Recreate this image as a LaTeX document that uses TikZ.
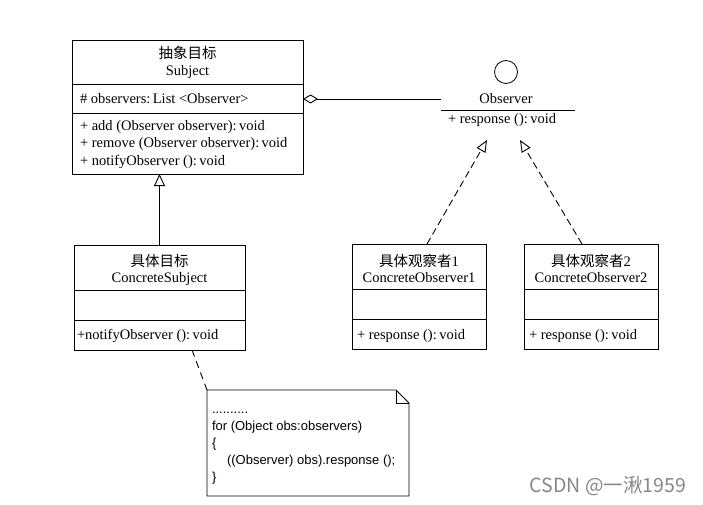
\documentclass[tikz,border=0pt]{standalone}
\usepackage{fontspec}
\setmainfont{Liberation Serif}
\newfontfamily\cjk{Noto Sans CJK SC}
\newfontfamily\notefont{Liberation Sans}
\usetikzlibrary{arrows.meta,calc}
\definecolor{wmgray}{RGB}{135,135,135}
\begin{document}
\begin{tikzpicture}[x=1pt,y=-1pt,
  every node/.style={inner sep=0pt, outer sep=0pt},
  umlbox/.style={draw, line width=0.9pt, anchor=north west},
  sepline/.style={line width=0.9pt},
  txt/.style={font=\fontsize{14.5pt}{17pt}\selectfont},
  notetxt/.style={font=\notefont\fontsize{13pt}{17pt}\selectfont, anchor=base west},
  realize/.style={line width=0.9pt, dash pattern=on 7pt off 4pt, -{Triangle[open,length=12pt,width=10pt]}},
  notelink/.style={line width=0.9pt, dash pattern=on 7pt off 5pt}]
\useasboundingbox (0,0) rectangle (703,505);

% Subject
\node[umlbox, minimum width=231pt, minimum height=134pt] (subj) at (72,40) {};
\draw[sepline] (72,84) -- (303,84);
\draw[sepline] (72,113) -- (303,113);
\node[txt, anchor=base] (subjcn) at (187.5,59) {\cjk 抽象目标};
\node[txt, anchor=base] (subjen) at (187.5,76) {Subject};
\node[txt, anchor=base west] (subja) at (80,104) {\# observers:\,List <Observer>};
\node[txt, anchor=base west] (subjm1) at (80,131) {+ add (Observer observer):\,void};
\node[txt, anchor=base west] (subjm2) at (80,148) {+ remove (Observer observer):\,void};
\node[txt, anchor=base west] (subjm3) at (80,165) {+ notifyObserver ():\,void};

% ConcreteSubject
\node[umlbox, minimum width=171pt, minimum height=105pt] (csubj) at (74,245) {};
\draw[sepline] (74,290) -- (245,290);
\draw[sepline] (74,320) -- (245,320);
\node[txt, anchor=base] (csubjcn) at (159.5,266) {\cjk 具体目标};
\node[txt, anchor=base] (csubjen) at (159.5,282) {ConcreteSubject};
\node[txt, anchor=base west] (csubjm) at (77,339) {+notifyObserver ():\,void};

% Observer interface
\node[draw, circle, line width=0.8pt, minimum size=23pt] (obsc) at (506,72) {};
\node[txt, anchor=base] (obsn) at (506,104) {Observer};
\draw[sepline] (441,110) -- (575,110);
\node[txt, anchor=base west] (obsm) at (448,124) {+ response ():\,void};
\coordinate (obsA) at (441,99);

% ConcreteObserver1
\node[umlbox, minimum width=134pt, minimum height=105pt] (co1) at (352,244) {};
\draw[sepline] (352,289) -- (486,289);
\draw[sepline] (352,319) -- (486,319);
\node[txt, anchor=base] (co1cn) at (419,266) {{\cjk 具体观察者}1};
\node[txt, anchor=base] (co1en) at (419,282) {ConcreteObserver1};
\node[txt, anchor=base west] (co1m) at (357,339) {+ response ():\,void};

% ConcreteObserver2
\node[umlbox, minimum width=134pt, minimum height=105pt] (co2) at (524,244) {};
\draw[sepline] (524,289) -- (658,289);
\draw[sepline] (524,319) -- (658,319);
\node[txt, anchor=base] (co2cn) at (591,266) {{\cjk 具体观察者}2};
\node[txt, anchor=base] (co2en) at (591,282) {ConcreteObserver2};
\node[txt, anchor=base west] (co2m) at (529,339) {+ response ():\,void};

% Note
\node[minimum width=202pt, minimum height=106pt, anchor=north west] (note) at (207,390) {};
\draw[line width=0.9pt] (note.north west) -- ($(note.north east)+(-13,0)$) -- ($(note.north east)+(0,13)$) -- (note.south east) -- (note.south west) -- cycle;
\draw[line width=0.9pt] ($(note.north east)+(-13,0)$) -- ($(note.north east)+(-13,13)$) -- ($(note.north east)+(0,13)$);
\node[notetxt] (n1) at (212,413) {..........};
\node[notetxt] (n2) at (212,430) {for (Object obs:observers)};
\node[notetxt] (n3) at (212,447) {\{};
\node[notetxt] (n4) at (227,464) {((Observer) obs).response ();};
\node[notetxt] (n5) at (212,481) {\}};

% Connectors
\draw[line width=0.9pt, -{Diamond[open,length=15pt,width=9pt]}] (obsA) -- (subj.east |- obsA);
\draw[line width=0.9pt, -{Triangle[open,length=12pt,width=11pt]}] (csubj.north) -- (csubj.north |- subj.south);
\coordinate (t1) at (487,140);
\coordinate (t2) at (520,140);
\draw[realize] ($(co1.north)+(8,0)$) -- (t1);
\draw[realize] ($(co2.north)+(-9,0)$) -- (t2);
\draw[notelink] ($(csubj.south)+(32.5,0)$) -- (note.north west);

% Watermark
\node[font=\cjk\fontsize{19.5pt}{19.5pt}\selectfont, text=wmgray] (wm) at (608,486) {CSDN @一湫1959};
\end{tikzpicture}
\end{document}
